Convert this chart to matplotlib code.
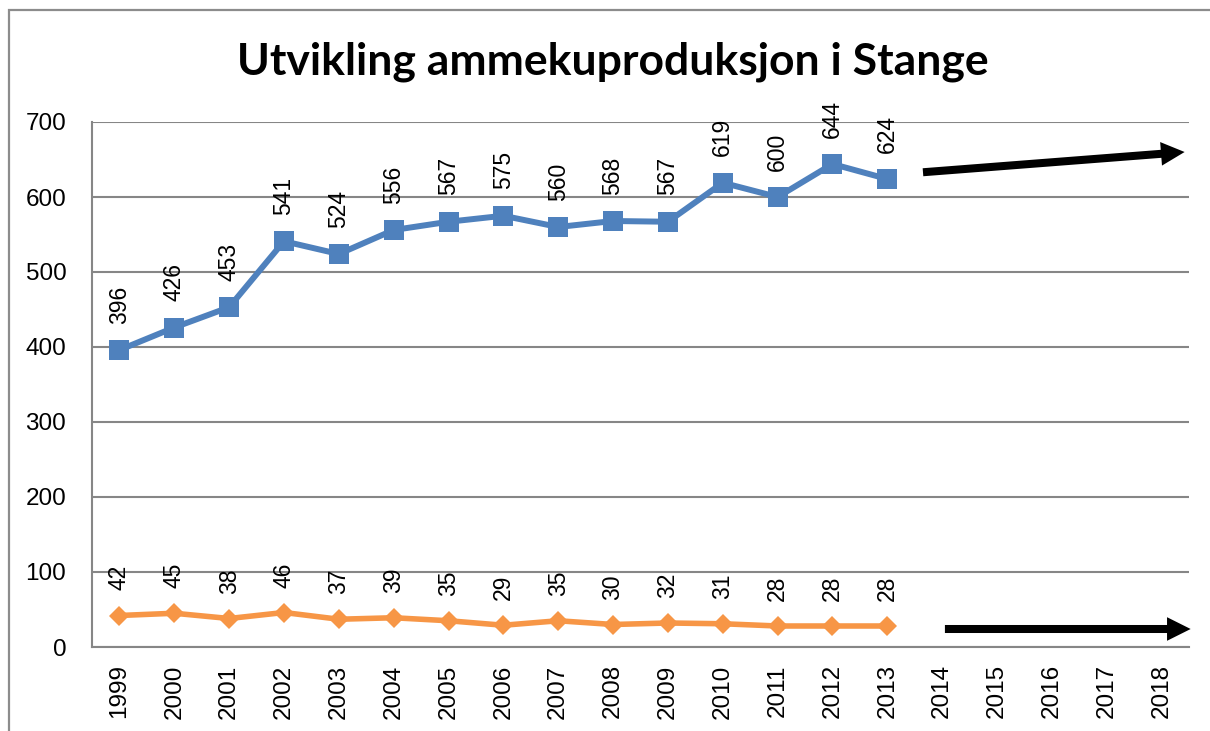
import matplotlib
matplotlib.use("Agg")
import matplotlib.pyplot as plt
from matplotlib.patches import Rectangle
from matplotlib import font_manager

years = [str(y) for y in range(1999, 2019)]
series_blue = [396, 426, 453, 541, 524, 556, 567, 575, 560, 568, 567, 619, 600, 644, 624]
series_orange = [42, 45, 38, 46, 37, 39, 35, 29, 35, 30, 32, 31, 28, 28, 28]
yticks = [0, 100, 200, 300, 400, 500, 600, 700]
title = "Utvikling ammekuproduksjon i Stange"

BLUE = "#4F81BD"
ORANGE = "#F79646"
GRID = "#868686"

names = {f.name for f in font_manager.fontManager.ttflist}
label_family = "Liberation Sans Narrow" if "Liberation Sans Narrow" in names else "Liberation Sans"
label_size = 18.5 if label_family == "Liberation Sans Narrow" else 16.5

fig = plt.figure(figsize=(12.10, 7.31), dpi=100)
fig.patch.set_facecolor("white")
# chart frame
fig.add_artist(Rectangle((9/1210, -0.1), 1.2, 1 - 10/731 + 0.1, transform=fig.transFigure,
                         fill=False, edgecolor="#8c8c8c", linewidth=1.6))

ax = fig.add_axes([92/1210, 1 - 647/731, (1189 - 92)/1210, (647 - 122)/731])
x = list(range(len(years)))
ax.set_xlim(-0.5, len(years) - 0.5)
ax.set_ylim(0, 700)
ax.set_yticks(yticks)
ax.set_xticks(x)
ax.set_xticklabels(years, rotation=90, fontsize=17.5, family="Liberation Sans")
ax.set_yticklabels([str(v) for v in yticks], fontsize=17.5, family="Liberation Sans")
ax.tick_params(axis="x", length=0, pad=12.5)
ax.tick_params(axis="y", length=0, pad=18.5)
ax.grid(axis="y", color=GRID, linewidth=1.5)
ax.set_axisbelow(True)
for s in ["top", "right"]:
    ax.spines[s].set_visible(False)
for s in ["left", "bottom"]:
    ax.spines[s].set_color(GRID)
    ax.spines[s].set_linewidth(1.5)

xb = x[:len(series_blue)]
ax.plot(xb, series_blue, color=BLUE, lw=4.3, marker="s", markersize=14,
        markeredgewidth=0, zorder=3)
xo = x[:len(series_orange)]
ax.plot(xo, series_orange, color=ORANGE, lw=4.0, marker="D", markersize=10,
        markeredgewidth=0, zorder=3)

for xi, v in zip(xb, series_blue):
    ax.annotate(str(v), (xi, v), xytext=(0, 19), textcoords="offset points",
                rotation=90, ha="center", va="bottom", fontsize=label_size,
                family=label_family)
for xi, v in zip(xo, series_orange):
    ax.annotate(str(v), (xi, v), xytext=(0, 18), textcoords="offset points",
                rotation=90, ha="center", va="bottom", fontsize=label_size,
                family=label_family)

# trend arrows
arrow_kw = dict(arrowstyle="simple,head_length=1.0,head_width=1.0,tail_width=0.34",
                color="black", lw=0, shrinkA=0, shrinkB=0, mutation_scale=17)
ax.annotate("", xy=(19.42, 660), xytext=(14.65, 633), arrowprops=arrow_kw,
            annotation_clip=False)
ax.annotate("", xy=(19.53, 24), xytext=(15.05, 24), arrowprops=arrow_kw,
            annotation_clip=False)

fig.text(613/1210, 1 - 75/731, title, ha="center", va="baseline",
         fontsize=32, fontweight="bold", family="Lato")

fig.savefig("out.png", dpi=100, facecolor="white")
